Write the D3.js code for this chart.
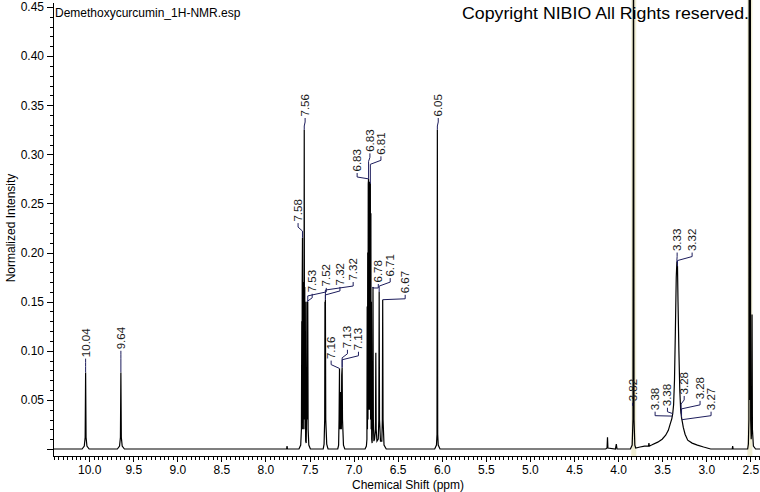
<!DOCTYPE html>
<html>
<head>
<meta charset="utf-8">
<script src="https://cdn.jsdelivr.net/npm/d3@7"></script>
<style>
body { margin: 0; background: #fff; }
svg { display: block; font-family: "Liberation Sans", Arial, sans-serif; }
.axis line, .axis path { stroke: #000; shape-rendering: crispEdges; }
.axis text { font-size: 12px; fill: #000; font-family: "Liberation Sans", Arial, sans-serif; }
</style>
</head>
<body>
<div id="chart"></div>
<script>
// spectrum, [ppm, normalized intensity]
var hydroxylPeaks = [
  [10.41, 0], [10.08, 0], [10.055, 0.003], [10.045, 0.012], [10.04, 0.078], [10.035, 0.012], [10.025, 0.003], [10.0, 0],
  [9.68, 0], [9.655, 0.003], [9.645, 0.012], [9.64, 0.078], [9.635, 0.012], [9.625, 0.003], [9.60, 0]
];
var aromaticPeaks = [
  [7.76, 0], [7.755, 0.003], [7.75, 0],
  [7.62, 0], [7.60, 0.004], [7.592, 0.02], [7.588, 0.13], [7.585, 0.02], [7.583, 0.17], [7.58, 0.215], [7.577, 0.03],
  [7.574, 0.17], [7.571, 0.02], [7.568, 0.168], [7.565, 0.03], [7.562, 0.17], [7.56, 0.325], [7.557, 0.03], [7.554, 0.165],
  [7.551, 0.02], [7.548, 0.15], [7.544, 0.008], [7.538, 0.006], [7.534, 0.03], [7.53, 0.15], [7.527, 0.03], [7.524, 0.12],
  [7.52, 0.15], [7.516, 0.02], [7.508, 0.004], [7.49, 0],
  [7.345, 0], [7.335, 0.005], [7.328, 0.03], [7.325, 0.15], [7.322, 0.04], [7.32, 0.152], [7.316, 0.03], [7.305, 0.005], [7.29, 0],
  [7.18, 0], [7.17, 0.004], [7.165, 0.03], [7.16, 0.082], [7.157, 0.02], [7.154, 0.055], [7.151, 0.02], [7.148, 0.058],
  [7.145, 0.02], [7.142, 0.05], [7.139, 0.02], [7.135, 0.075], [7.13, 0.083], [7.126, 0.03], [7.115, 0.004], [7.10, 0]
];
var olefinicPeaks = [
  [6.87, 0], [6.855, 0.003], [6.849, 0.01], [6.846, 0.145], [6.843, 0.02], [6.84, 0.2], [6.837, 0.03], [6.834, 0.27],
  [6.83, 0.275], [6.827, 0.04], [6.824, 0.27], [6.821, 0.05], [6.818, 0.272], [6.815, 0.04], [6.812, 0.27], [6.81, 0.27],
  [6.807, 0.03], [6.804, 0.24], [6.801, 0.02], [6.798, 0.15], [6.795, 0.01], [6.79, 0.006], [6.785, 0.03], [6.78, 0.165],
  [6.776, 0.03], [6.77, 0.008], [6.762, 0.01], [6.752, 0.02], [6.748, 0.098], [6.744, 0.02], [6.735, 0.008], [6.72, 0.01],
  [6.714, 0.03], [6.71, 0.16], [6.706, 0.03], [6.695, 0.008], [6.68, 0.008], [6.674, 0.03], [6.67, 0.152], [6.666, 0.03],
  [6.655, 0.004], [6.63, 0],
  [6.08, 0], [6.06, 0.004], [6.054, 0.015], [6.05, 0.325], [6.046, 0.015], [6.04, 0.004], [6.02, 0]
];
var solventPeaks = [
  [4.14, 0], [4.125, 0.001], [4.12, 0.012], [4.115, 0.001], [4.03, 0], [4.02, 0.005], [4.012, 0],
  [3.86, 0], [3.84, 0.004], [3.831, 0.03], [3.825, 0.6], [3.819, 0.03], [3.81, 0.004], [3.80, 0.001],
  [3.75, 0.002], [3.70, 0.003], [3.655, 0.003], [3.65, 0.006], [3.645, 0.003], [3.62, 0.004], [3.55, 0.007], [3.50, 0.01],
  [3.46, 0.014], [3.43, 0.019], [3.41, 0.025], [3.39, 0.031], [3.38, 0.036], [3.37, 0.045], [3.36, 0.07], [3.35, 0.12],
  [3.34, 0.175], [3.333, 0.19], [3.33, 0.19], [3.326, 0.186], [3.32, 0.15], [3.31, 0.1], [3.30, 0.06], [3.29, 0.04],
  [3.28, 0.032], [3.27, 0.027], [3.26, 0.022], [3.24, 0.015], [3.21, 0.009], [3.16, 0.006], [3.10, 0.004], [3.03, 0.002],
  [2.95, 0], [2.705, 0], [2.70, 0.003], [2.695, 0],
  [2.53, 0], [2.522, 0.005], [2.516, 0.03], [2.512, 0.6], [2.508, 0.05], [2.504, 0.6], [2.50, 0.6], [2.496, 0.03],
  [2.49, 0.01], [2.484, 0.02], [2.48, 0.137], [2.476, 0.02], [2.465, 0.003], [2.44, 0], [2.39, 0]
];

// peak picking annotations
var peakLabels = ["10.04", "9.64", "7.58", "7.56", "7.53", "7.52", "7.32", "7.32", "7.16", "7.13", "7.13",
  "6.83", "6.83", "6.81", "6.78", "6.71", "6.67", "6.05", "3.82", "3.38", "3.38", "3.33", "3.32", "3.28", "3.28", "3.27"];
var peakShift = [10.04, 9.64, 7.58, 7.56, 7.53, 7.52, 7.32, 7.32, 7.16, 7.13, 7.13,
  6.83, 6.83, 6.81, 6.78, 6.71, 6.67, 6.05, 3.825, 3.385, 3.38, 3.333, 3.326, 3.285, 3.28, 3.275];
var labelShift = [10.04, 9.64, 7.63, 7.55, 7.47, 7.31, 7.155, 7.005, 7.255, 7.07, 6.945,
  6.96, 6.815, 6.69, 6.72, 6.585, 6.415, 6.04, 3.835, 3.58, 3.44, 3.33, 3.16, 3.25, 3.07, 2.945];
var labelLevel = [0.092, 0.10, 0.230, 0.337, 0.158, 0.164, 0.165, 0.170, 0.090, 0.101, 0.099,
  0.281, 0.301, 0.298, 0.168, 0.174, 0.157, 0.337, 0.047, 0.038, 0.042, 0.200, 0.200, 0.054, 0.049, 0.038];

// highlighted (solvent / reference) peaks
var highlightShift = [3.822, 2.505];

var xTicks = [10.0, 9.5, 9.0, 8.5, 8.0, 7.5, 7.0, 6.5, 6.0, 5.5, 5.0, 4.5, 4.0, 3.5, 3.0, 2.5];
var yTicks = [0, 0.05, 0.10, 0.15, 0.20, 0.25, 0.30, 0.35, 0.40, 0.45];

var width = 760;
var height = 492;
var left = 53;
var bottom = 456;

var spectrum = hydroxylPeaks.concat(aromaticPeaks, olefinicPeaks, solventPeaks);

var svg = d3.select("#chart")
    .append("svg")
    .attr("width", width)
    .attr("height", height);

var x_scale = d3.scaleLinear()
    .domain([10.41, 2.39])
    .range([left, width]);

var y_scale = d3.scaleLinear()
    .domain([0, 0.45])
    .range([449, 7]);

svg.append("defs").append("clipPath")
    .attr("id", "plot")
  .append("rect")
    .attr("x", left + 1)
    .attr("y", 0)
    .attr("width", width - left)
    .attr("height", bottom);

// highlight bands
svg.selectAll(".band")
  .data(highlightShift)
  .enter()
  .append("rect")
    .attr("class", "band")
    .attr("x", function(d) { return x_scale(d) - 2.5; })
    .attr("y", 0)
    .attr("width", 5)
    .attr("height", bottom)
    .attr("fill", "#efedd3");

// axes
var x_minor = d3.range(0, 161).map(function(i) { return +(10.40 - i * 0.05).toFixed(2); });
var y_minor = d3.range(1, 46).map(function(i) { return i / 100; });

svg.append("g")
    .attr("class", "x axis")
    .attr("transform", "translate(0," + bottom + ")")
    .call(d3.axisBottom(x_scale).tickValues(x_minor).tickSize(4).tickFormat(""))
    .call(function(g) { g.select(".domain").remove(); });

svg.append("g")
    .attr("class", "x axis")
    .attr("transform", "translate(0," + bottom + ")")
    .call(d3.axisBottom(x_scale).tickValues(xTicks).tickSize(6).tickPadding(3.5)
      .tickFormat(d3.format(".1f")))
    .call(function(g) { g.select(".domain").remove(); });

svg.append("g")
    .attr("class", "y axis")
    .attr("transform", "translate(" + left + ",0)")
    .call(d3.axisLeft(y_scale).tickValues(y_minor).tickSize(3).tickFormat(""))
    .call(function(g) { g.select(".domain").remove(); });

svg.append("g")
    .attr("class", "y axis")
    .attr("transform", "translate(" + left + ",0)")
    .call(d3.axisLeft(y_scale).tickValues(yTicks).tickSize(6).tickPadding(3)
      .tickFormat(function(d) { return d === 0 ? "" : d3.format(".2f")(d); }))
    .call(function(g) { g.select(".domain").remove(); });

svg.append("line")
    .attr("x1", left).attr("x2", left)
    .attr("y1", 3).attr("y2", bottom)
    .attr("stroke", "#000")
    .attr("shape-rendering", "crispEdges");

svg.append("line")
    .attr("x1", left).attr("x2", width)
    .attr("y1", bottom).attr("y2", bottom)
    .attr("stroke", "#000")
    .attr("shape-rendering", "crispEdges");

// spectrum
var line = d3.line()
    .x(function(d) { return x_scale(d[0]); })
    .y(function(d) { return y_scale(d[1]); });

svg.append("path")
    .datum(spectrum)
    .attr("clip-path", "url(#plot)")
    .attr("d", line)
    .attr("fill", "none")
    .attr("stroke", "#000")
    .attr("stroke-width", 1.2);

// intensity on the spectrum at a given shift
function valueAt(p) {
  for (var i = 0; i < spectrum.length - 1; i++) {
    var a = spectrum[i], b = spectrum[i + 1];
    if (a[0] >= p && p >= b[0]) {
      if (a[0] === b[0]) return Math.max(a[1], b[1]);
      return a[1] + (b[1] - a[1]) * (a[0] - p) / (a[0] - b[0]);
    }
  }
  return 0;
}

var labels = peakLabels.map(function(t, i) {
  return { text: t, peak: peakShift[i], at: labelShift[i], level: labelLevel[i] };
});

svg.selectAll(".leader")
  .data(labels)
  .enter()
  .append("path")
    .attr("class", "leader")
    .attr("d", function(d) {
      var xl = x_scale(d.at), yl = y_scale(d.level);
      var xp = x_scale(d.peak), yp = y_scale(valueAt(d.peak));
      if (yp < yl) return "M" + xl + "," + yl + "V" + (yl + 3);
      var ye = Math.max(yl + 4, Math.min(yl + 8, yp));
      return "M" + xl + "," + yl + "V" + (yl + 4) + "L" + xp + "," + ye + "V" + yp;
    })
    .attr("fill", "none")
    .attr("stroke", "#1c1c5c")
    .attr("stroke-width", 1);

svg.selectAll(".peak-label")
  .data(labels)
  .enter()
  .append("text")
    .attr("class", "peak-label")
    .attr("transform", function(d) {
      return "translate(" + (x_scale(d.at) + 4) + "," + (y_scale(d.level) - 1.5) + ") rotate(-90)";
    })
    .attr("font-size", "11.5px")
    .attr("fill", "#1a1a1a")
    .text(function(d) { return d.text; });

// titles
svg.append("text")
    .attr("x", 55)
    .attr("y", 17)
    .attr("font-size", "12px")
    .text("Demethoxycurcumin_1H-NMR.esp");

svg.append("text")
    .attr("x", 462)
    .attr("y", 19)
    .attr("font-size", "16.5px")
    .attr("textLength", 287)
    .attr("lengthAdjust", "spacingAndGlyphs")
    .text("Copyright NIBIO All Rights reserved.");

svg.append("text")
    .attr("x", 408)
    .attr("y", 489)
    .attr("text-anchor", "middle")
    .attr("font-size", "12px")
    .text("Chemical Shift (ppm)");

svg.append("text")
    .attr("transform", "translate(15,228) rotate(-90)")
    .attr("text-anchor", "middle")
    .attr("font-size", "12px")
    .text("Normalized Intensity");
</script>
</body>
</html>
